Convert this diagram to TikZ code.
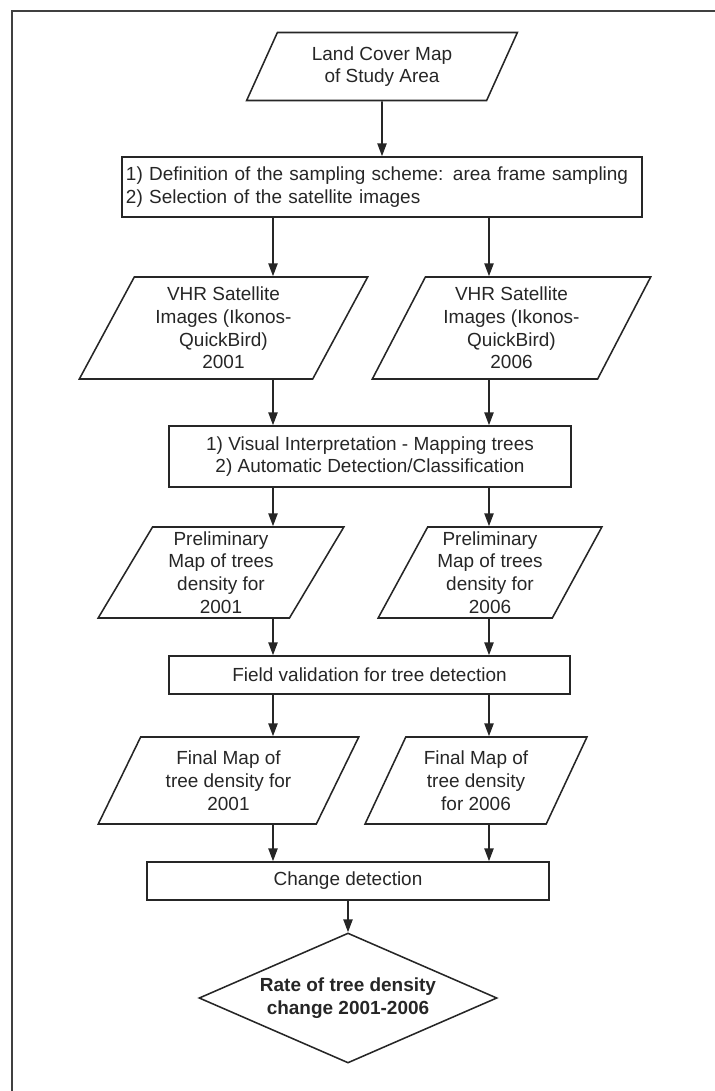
\documentclass[tikz,border=0pt]{standalone}
\usepackage{fontspec}
\setmainfont{Liberation Sans}
\usetikzlibrary{shapes.geometric,arrows.meta}

\begin{document}
\begin{tikzpicture}[x=0.25mm, y=-0.25mm,
    line width=1.1pt, draw=black!85,
    txt/.style={font=\fontsize{13.5}{16.2}\selectfont, text=black!85},
    iodata/.style={draw, txt, trapezium, trapezium left angle=63, trapezium right angle=117,
        trapezium stretches=true, inner sep=0pt, align=center},
    proc/.style={draw, txt, rectangle, inner sep=0pt, align=center},
    decision/.style={draw, txt, diamond, shape aspect=2.3, inner sep=0pt, align=center,
        font=\fontsize{13.5}{16}\selectfont\bfseries},
    arr/.style={-{Triangle[length=3.2mm,width=2.3mm]}}]

    \useasboundingbox (0,0) rectangle (715,1091);

    % Outer frame (only top and left edges are visible)
    \draw[line width=0.5mm, black!75] (715,11) -- (11.5,11) -- (11.5,1091);

    % Step 1: Land cover and sampling scheme
    \node[iodata, minimum width=67.75mm, minimum height=17mm] (land) at (382,66.5) {Land Cover Map\\of Study Area};
    \node[proc, minimum width=130mm, minimum height=15mm, text width=128mm, align=left] (sampling) at (382,187)
        {1) Definition of the sampling scheme: area frame sampling\\2) Selection of the satellite images};

    % Step 2: satellite images
    \node[iodata, minimum width=72.25mm, minimum height=25.5mm] (vhrL) at (223.5,328) {VHR Satellite\\Images (Ikonos-\\QuickBird)\\2001};
    \node[iodata, minimum width=69.75mm, minimum height=25.5mm] (vhrR) at (511.5,328) {VHR Satellite\\Images (Ikonos-\\QuickBird)\\2006};
    \node[proc, minimum width=100.5mm, minimum height=15.25mm] (interp) at (370,456.5)
        {1) Visual Interpretation - Mapping trees\\2) Automatic Detection/Classification};

    % Step 3: preliminary maps and field validation
    \node[iodata, minimum width=61.5mm, minimum height=22.75mm] (prelimL) at (221,572.5) {Preliminary\\Map of trees\\density for\\2001};
    \node[iodata, minimum width=56mm, minimum height=22.75mm] (prelimR) at (490,572.5) {Preliminary\\Map of trees\\density for\\2006};
    \node[proc, minimum width=100.25mm, minimum height=9.5mm] (field) at (369.5,675) {Field validation for tree detection};

    % Step 4: final maps and change detection
    \node[iodata, minimum width=65.25mm, minimum height=21.75mm] (finalL) at (228.5,780.5) {Final Map of\\tree density for\\2001};
    \node[iodata, minimum width=55.5mm, minimum height=21.75mm] (finalR) at (476,780.5) {Final Map of\\tree density\\for 2006};
    \node[proc, minimum width=100.5mm, minimum height=9.5mm] (change) at (348,881) {Change detection};
    \node[decision, minimum width=74.5mm, minimum height=32.5mm] (rate) at (348,998) {Rate of tree density\\change 2001-2006};

    % Connectors
    \coordinate (colL) at (273,0);
    \coordinate (colR) at (489,0);
    \draw[arr] (land.south) -- (sampling.north);
    \foreach \col/\side in {colL/L, colR/R} {
        \draw[arr] (sampling.south -| \col) -- (vhr\side.north -| \col);
        \draw[arr] (vhr\side.south -| \col) -- (interp.north -| \col);
        \draw[arr] (interp.south -| \col) -- (prelim\side.north -| \col);
        \draw[arr] (prelim\side.south -| \col) -- (field.north -| \col);
        \draw[arr] (field.south -| \col) -- (final\side.north -| \col);
        \draw[arr] (final\side.south -| \col) -- (change.north -| \col);
    }
    \draw[arr] (change.south) -- (rate.north);

\end{tikzpicture}
\end{document}
